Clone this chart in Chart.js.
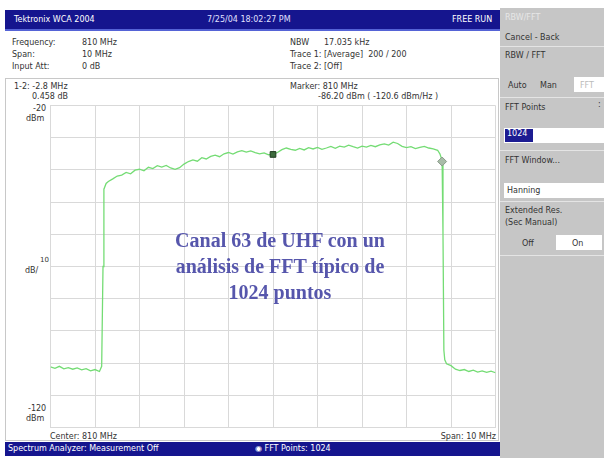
<!DOCTYPE html>
<html>
<head>
<meta charset="utf-8">
<script src="https://cdn.jsdelivr.net/npm/chart.js@4/dist/chart.umd.min.js"></script>
<style>
  body { margin: 0; width: 604px; height: 458px; overflow: hidden; position: relative; background: #fff;
         font-family: "DejaVu Sans", sans-serif; font-size: 8px; color: #333; }
  .abs { position: absolute; white-space: nowrap; }
  .bar { background: #15158e; color: #fff; }
  .panel { background: #c6c6c6; }
  .sep { position: absolute; height: 1px; background: #e4e4e4; left: 500px; width: 104px; }
  .box { position: absolute; background: #fff; }
  .note { position: absolute; left: 110px; width: 340px; text-align: center;
          font-family: "Liberation Serif", "Times New Roman", serif; font-weight: bold;
          font-size: 20px; line-height: 26px; color: #5656ac; }
</style>
</head>
<body>
<!-- top title bar -->
<div class="abs bar" style="left:5px;top:10px;width:495px;height:19px;border-bottom:2px solid #5563d6;"></div>
<div class="abs" style="left:14px;top:15px;color:#fff;">Tektronix WCA 2004</div>
<div class="abs" style="left:207px;top:15px;color:#e0e0ff;">7/25/04 18:02:27 PM</div>
<div class="abs" style="left:452px;top:15px;color:#fff;">FREE RUN</div>

<!-- right soft-key panel -->
<div class="abs panel" style="left:500px;top:8px;width:104px;height:450px;"></div>
<div class="abs" style="left:505px;top:13px;color:#e6e6e6;">RBW/FFT</div>
<div class="abs" style="left:505px;top:33px;">Cancel - Back</div>
<div class="sep" style="top:46px;"></div>
<div class="abs" style="left:505px;top:51px;">RBW / FFT</div>
<div class="abs" style="left:508px;top:81px;">Auto</div>
<div class="abs" style="left:540px;top:81px;">Man</div>
<div class="box" style="left:574px;top:77px;width:30px;height:15px;"></div>
<div class="abs" style="left:580px;top:81px;color:#bbb;">FFT</div>
<div class="sep" style="top:97px;"></div>
<div class="abs" style="left:505px;top:103px;">FFT Points</div>
<div class="abs" style="left:598px;top:100px;">:</div>
<div class="box" style="left:504px;top:128px;width:100px;height:15px;"></div>
<div class="abs" style="left:505px;top:129px;width:26px;height:13px;background:#1c1c92;color:#fff;padding-left:2px;">1024</div>
<div class="sep" style="top:150px;"></div>
<div class="abs" style="left:505px;top:156px;">FFT Window...</div>
<div class="box" style="left:504px;top:183px;width:100px;height:15px;"></div>
<div class="abs" style="left:507px;top:186px;">Hanning</div>
<div class="sep" style="top:201px;"></div>
<div class="abs" style="left:505px;top:206px;">Extended Res.</div>
<div class="abs" style="left:505px;top:218px;">(Sec Manual)</div>
<div class="abs" style="left:522px;top:239px;">Off</div>
<div class="box" style="left:556px;top:235px;width:46px;height:15px;"></div>
<div class="abs" style="left:572px;top:239px;">On</div>
<div class="sep" style="top:255px;"></div>

<!-- setup readout -->
<div class="abs" style="left:12px;top:38px;">Frequency:</div>
<div class="abs" style="left:82px;top:38px;">810 MHz</div>
<div class="abs" style="left:12px;top:50px;">Span:</div>
<div class="abs" style="left:82px;top:50px;">10 MHz</div>
<div class="abs" style="left:12px;top:62px;">Input Att:</div>
<div class="abs" style="left:82px;top:62px;">0 dB</div>
<div class="abs" style="left:290px;top:38px;">NBW</div>
<div class="abs" style="left:324px;top:38px;">17.035 kHz</div>
<div class="abs" style="left:290px;top:50px;">Trace 1:</div>
<div class="abs" style="left:324px;top:50px;">[Average]&nbsp; 200 / 200</div>
<div class="abs" style="left:290px;top:62px;">Trace 2:</div>
<div class="abs" style="left:324px;top:62px;">[Off]</div>

<!-- measurement frame -->
<div class="abs" style="left:5px;top:78px;width:494px;height:363px;border:1px solid #c8c8c8;box-sizing:border-box;"></div>
<div class="abs" style="left:14px;top:82px;">1-2: -2.8 MHz</div>
<div class="abs" style="left:32px;top:92px;">0.458 dB</div>
<div class="abs" style="left:290px;top:82px;">Marker: 810 MHz</div>
<div class="abs" style="left:318px;top:92px;">-86.20 dBm ( -120.6 dBm/Hz )</div>
<div class="abs" style="left:33px;top:104px;">-20</div>
<div class="abs" style="left:26px;top:114px;">dBm</div>
<div class="abs" style="left:40px;top:256px;font-size:7px;">10</div>
<div class="abs" style="left:25px;top:266px;">dB/</div>
<div class="abs" style="left:28px;top:404px;">-120</div>
<div class="abs" style="left:26px;top:414px;">dBm</div>
<div class="abs" style="left:50px;top:432px;">Center: 810 MHz</div>
<div class="abs" style="left:436px;top:432px;width:60px;text-align:right;">Span: 10 MHz</div>

<!-- bottom status bar -->
<div class="abs bar" style="left:5px;top:442px;width:495px;height:14px;"></div>
<div class="abs" style="left:8px;top:444px;color:#fff;">Spectrum Analyzer: Measurement Off</div>
<div class="abs" style="left:255px;top:444px;color:#fff;">&#9673; FFT Points: 1024</div>

<canvas id="spectrum" class="abs" style="left:45px;top:100px;" width="456" height="333"></canvas>

<div class="note" style="top:227px;">Canal 63 de UHF con un<br>análisis de FFT típico de<br>1024 puntos</div>

<script>
// sweep: 805 - 815 MHz, reference -20 dBm, 10 dB/div
const freqMHz = [
  805.0, 805.1, 805.2, 805.3, 805.4, 805.5, 805.6, 805.7, 805.8, 805.9,
  806.0, 806.1, 806.15, 806.18, 806.2, 806.25, 806.3, 806.4, 806.5, 806.6,
  806.7, 806.8, 806.9, 807.0, 807.1, 807.2, 807.3, 807.4, 807.5, 807.6,
  807.7, 807.8, 807.9, 808.0, 808.1, 808.2, 808.3, 808.4, 808.5, 808.6,
  808.7, 808.8, 808.9, 809.0, 809.1, 809.2, 809.3, 809.4, 809.5, 809.6,
  809.7, 809.8, 809.9, 810.0, 810.1, 810.2, 810.3, 810.4, 810.5, 810.6,
  810.7, 810.8, 810.9, 811.0, 811.1, 811.2, 811.3, 811.4, 811.5, 811.6,
  811.7, 811.8, 811.9, 812.0, 812.1, 812.2, 812.3, 812.4, 812.5, 812.6,
  812.7, 812.8, 812.9, 813.0, 813.1, 813.2, 813.3, 813.4, 813.5, 813.6,
  813.7, 813.75, 813.8, 813.82, 813.84, 813.86, 813.9, 814.0, 814.1, 814.2,
  814.3, 814.4, 814.5, 814.6, 814.7, 814.8, 814.9, 815.0
];
const traceDbm = [
  -101.2, -101.6, -101.0, -101.8, -101.4, -101.9, -101.5, -102.1, -101.7, -102.4,
  -102.0, -102.6, -101.0, -70.0, -46.0, -44.2, -43.6, -42.8, -41.9, -41.6,
  -40.8, -41.2, -40.1, -39.8, -40.3, -39.2, -39.6, -38.7, -39.1, -38.6,
  -39.4, -39.8, -39.3, -38.2, -37.4, -36.9, -37.3, -36.2, -36.6, -35.8,
  -35.4, -35.9, -35.0, -34.6, -35.1, -34.4, -34.0, -34.5, -34.1, -34.6,
  -35.0, -34.7, -35.3, -35.2, -34.6, -33.7, -33.2, -33.6, -33.9, -33.3,
  -33.8, -33.1, -33.5, -33.0, -33.6, -33.2, -32.7, -33.3, -32.6, -32.9,
  -32.3, -32.8, -33.2, -32.6, -32.9, -32.4, -32.8, -32.2, -31.9, -32.3,
  -31.4, -31.8, -32.7, -33.1, -32.8, -33.4, -33.0, -32.7, -33.2, -33.5,
  -33.9, -35.0, -37.0, -60.0, -96.0, -99.0, -100.2, -100.8, -101.9, -102.3,
  -102.0, -102.6, -102.2, -102.8, -102.4, -102.9, -102.5, -103.0
];
// marker 1 (square) and marker 2 (delta, diamond)
const markerFreq = [810.0, 813.8];
const markerDbm = [-35.2, -37.4];

const gridColor = '#d9d9d9';

new Chart(document.getElementById('spectrum').getContext('2d'), {
    type: 'line',
    data: {
        datasets: [{
            data: freqMHz.map((f, i) => ({ x: f, y: traceDbm[i] })),
            borderColor: '#74dc74',
            borderWidth: 1.3,
            pointRadius: 0,
            tension: 0,
            order: 2
        }, {
            type: 'scatter',
            data: markerFreq.map((f, i) => ({ x: f, y: markerDbm[i] })),
            pointStyle: ['rect', 'rectRot'],
            pointRadius: [4, 4.5],
            backgroundColor: ['#3d6b3d', '#a8bca8'],
            borderColor: ['#1d3a1d', '#8a9a8a'],
            borderWidth: 1,
            order: 1
        }]
    },
    options: {
        responsive: false,
        animation: false,
        layout: { padding: 5 },
        plugins: { legend: { display: false }, tooltip: { enabled: false } },
        scales: {
            x: {
                type: 'linear',
                min: 805,
                max: 815,
                ticks: { display: false, stepSize: 1 },
                grid: { color: gridColor, drawTicks: false },
                border: { color: gridColor }
            },
            y: {
                min: -120,
                max: -20,
                ticks: { display: false, stepSize: 10 },
                grid: { color: gridColor, drawTicks: false },
                border: { color: gridColor }
            }
        }
    }
});
</script>
</body>
</html>
